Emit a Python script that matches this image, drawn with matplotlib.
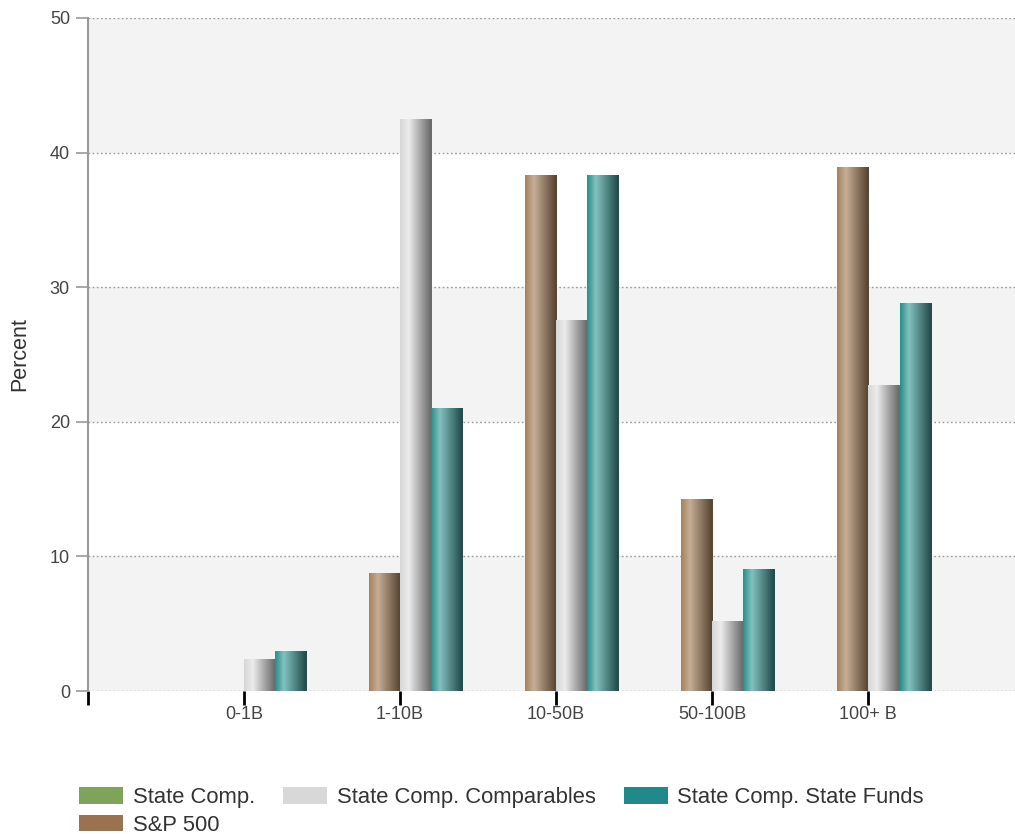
import numpy as np
import matplotlib
matplotlib.use("Agg")
import matplotlib.pyplot as plt
from matplotlib.colors import LinearSegmentedColormap
from matplotlib.patches import Patch

plt.rcParams['font.family'] = ['Liberation Sans', 'DejaVu Sans']

categories = ["0-1B", "1-10B", "10-50B", "50-100B", "100+ B"]
series_names = ["State Comp.", "S&P 500", "State Comp. Comparables", "State Comp. State Funds"]
state_comp = [0, 0, 0, 0, 0]
sp500 = [0, 8.8, 38.3, 14.3, 38.9]
comparables = [2.4, 42.5, 27.6, 5.2, 22.7]
state_funds = [3.0, 21.0, 38.3, 9.1, 28.8]
y_ticks = [0, 10, 20, 30, 40, 50]

series_values = [state_comp, sp500, comparables, state_funds]
base_colors = ["#7ea45a", "#9a7250", "#d8d8d8", "#22898a"]
gradients = [
    ["#6f9a4c", "#9cc27a", "#4a6a32"],
    ["#a3815f", "#c6ae96", "#5a4734"],
    ["#d6d6d6", "#ececec", "#6c6c6c"],
    ["#2a8c89", "#82c2be", "#234e4d"],
]

fig = plt.figure(figsize=(10.15, 8.34), dpi=100)
ax = fig.add_axes([88/1015, 1-691/834, 1-88/1015, (691-18)/834])
ax.set_facecolor("white")

# alternating bands
for i in range(len(y_ticks) - 1):
    if i % 2 == 0:
        ax.fill_between([-1, 4.94], y_ticks[i], y_ticks[i+1], facecolor="#f3f3f3",
                        edgecolor='none', lw=0, zorder=0)

for t in y_ticks:
    ax.axhline(t, color="#9a9a9a", lw=1.0, ls=(0, (1.2, 1.8)), zorder=1)

x = np.arange(len(categories))
width = 0.2
grad = np.linspace(0, 1, 256).reshape(1, -1)
for k, (vals, name) in enumerate(zip(series_values, series_names)):
    offs = (k - 1.5) * width
    bars = ax.bar(x + offs, vals, width, color=base_colors[k], zorder=2, lw=0)
    c = gradients[k]
    cmap = LinearSegmentedColormap.from_list(
        "g%d" % k, [(0, c[0]), (0.28, c[1]), (0.95, c[2]), (1.0, c[2])])
    for b in bars:
        h = b.get_height()
        if h <= 0:
            continue
        x0 = b.get_x()
        w = b.get_width()
        im = ax.imshow(grad, cmap=cmap, aspect='auto', extent=(x0, x0 + w, 0, h),
                       zorder=3, interpolation='bilinear')
        im.set_clip_path(b)

ax.set_xlim(-1, 4.94)
ax.set_ylim(0, 50)

for s in ["top", "right", "bottom"]:
    ax.spines[s].set_visible(False)
ax.spines["left"].set_color("#999999")
ax.spines["left"].set_linewidth(1.5)

ax.set_yticks(y_ticks)
ax.set_yticklabels([str(t) for t in y_ticks])
ax.tick_params(axis='y', length=9, width=1.2, color="#999999", labelsize=13,
               labelcolor="#444444", pad=4)
ax.set_xticks([-1] + list(x))
ax.set_xticklabels([""] + categories)
ax.tick_params(axis='x', length=10, width=2, color="black", labelsize=13,
               labelcolor="#444444", pad=1)
ax.set_ylabel("Percent", fontsize=15.5, color="#333333", labelpad=14)

handles = [Patch(facecolor=base_colors[k], edgecolor='none') for k in range(4)]
fig.legend(handles, series_names, loc="upper left",
           bbox_to_anchor=(79/1015, 1-787/834), ncol=3, frameon=False,
           fontsize=15.8, handlelength=2.0, handleheight=0.8, handletextpad=0.45,
           columnspacing=1.28, labelspacing=0.3, borderpad=0, borderaxespad=0,
           labelcolor="#333333")

fig.savefig("out.png", dpi=100)
